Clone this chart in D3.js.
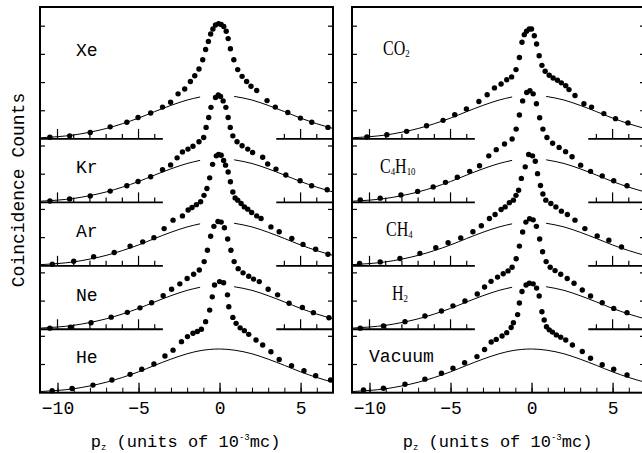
<!DOCTYPE html>
<html>
<head>
<meta charset="utf-8">
<script src="https://cdn.jsdelivr.net/npm/d3@7/dist/d3.min.js"></script>
<style>
    body { margin: 0; background: #fff; }
    .mono { font-family: "Liberation Mono", "DejaVu Sans Mono", monospace; }
    .serif { font-family: "Liberation Serif", serif; }
</style>
</head>
<body>
<div id="chart"></div>
<script>

// broad (fitted) component, same for every spectrum
const broadP = [-11.08, -10, -9, -8, -7, -6, -5, -4, -3, -2, -1.2, 0, 0.9, 2, 3, 4, 5, 6, 7];
const broadC = [0.04, 0.08, 0.14, 0.24, 0.37, 0.54, 0.74, 0.97, 1.19, 1.38, 1.49, 1.55, 1.51, 1.38, 1.19, 0.97, 0.74, 0.54, 0.37];

// measured points [pz, counts above own baseline]
const xeData = [[-10.47,0.06],[-9.25,0.11],[-7.98,0.23],[-6.75,0.43],[-5.72,0.59],[-5.03,0.76],[-4.25,0.92],[-3.52,1.13],[-3.02,1.30],[-2.56,1.60],[-2.15,1.77],[-1.80,2.04],[-1.53,2.24],[-1.27,2.48],[-1.04,2.81],[-0.86,3.17],[-0.69,3.46],[-0.55,3.72],[-0.41,3.90],[-0.25,4.04],[-0.06,4.09],[0.10,4.06],[0.26,3.99],[0.41,3.82],[0.53,3.56],[0.67,3.20],[0.88,2.81],[1.12,2.46],[1.39,2.22],[1.67,2.04],[1.94,1.87],[2.29,1.72],[2.93,1.36],[3.44,1.13],[4.21,0.94],[4.99,0.74],[5.69,0.59],[6.69,0.41]];
const krData = [[-10.47,0.05],[-9.25,0.12],[-7.98,0.23],[-6.75,0.40],[-5.72,0.59],[-5.03,0.74],[-4.25,0.91],[-3.52,1.16],[-3.02,1.33],[-2.62,1.58],[-2.29,1.79],[-1.95,1.89],[-1.64,1.99],[-1.27,2.15],[-0.98,2.30],[-0.83,2.66],[-0.67,3.01],[-0.53,3.37],[-0.25,3.72],[-0.08,3.81],[0.06,3.76],[0.22,3.60],[0.39,3.37],[0.53,3.01],[0.66,2.66],[0.82,2.36],[1.08,2.15],[1.39,2.01],[1.74,1.89],[2.04,1.77],[2.66,1.60],[2.97,1.36],[3.48,1.18],[4.09,0.97],[4.97,0.77],[5.68,0.59],[6.64,0.45]];
const arData = [[-10.32,0.06],[-9.0,0.16],[-7.77,0.32],[-6.5,0.47],[-5.52,0.70],[-4.74,0.85],[-4.05,1.00],[-3.42,1.32],[-2.87,1.62],[-2.29,1.77],[-1.94,1.98],[-1.70,2.07],[-1.43,2.17],[-1.17,2.27],[-0.96,2.50],[-0.78,2.74],[-0.61,3.12],[-0.43,3.60],[-0.20,3.90],[-0.06,3.95],[0.10,3.92],[0.25,3.74],[0.37,3.57],[0.53,3.33],[0.67,2.98],[0.82,2.62],[0.96,2.41],[1.12,2.33],[1.33,2.21],[1.53,2.09],[1.74,2.01],[1.98,1.89],[2.29,1.77],[2.56,1.68],[3.17,1.38],[3.68,1.21],[4.46,0.97],[5.15,0.76],[5.93,0.59],[6.69,0.41]];
const neData = [[-10.47,0.04],[-9.2,0.07],[-7.93,0.23],[-6.69,0.43],[-5.69,0.60],[-4.91,0.76],[-4.19,0.94],[-3.48,1.19],[-2.96,1.42],[-2.45,1.61],[-2.0,1.80],[-1.6,1.95],[-1.25,2.10],[-0.95,2.40],[-0.75,2.80],[-0.55,3.30],[-0.35,3.65],[-0.1,3.82],[0.1,3.80],[0.3,3.60],[0.5,3.20],[0.7,2.80],[0.9,2.40],[1.15,2.15],[1.45,2.00],[1.8,1.88],[2.1,1.78],[2.45,1.69],[3.0,1.42],[3.58,1.22],[4.29,0.92],[5.11,0.77],[5.79,0.59],[6.75,0.41]];
const heData = [[-10.33,0.07],[-9.1,0.15],[-7.81,0.27],[-6.64,0.45],[-5.52,0.65],[-4.8,0.83],[-4.05,1.02],[-3.37,1.30],[-2.87,1.51],[-2.35,1.81],[-1.98,1.99],[-1.64,2.11],[-1.37,2.17],[-1.12,2.25],[-0.86,2.52],[-0.61,2.93],[-0.45,3.40],[-0.31,3.82],[0,3.94],[0.25,3.90],[0.49,3.47],[0.57,3.05],[0.82,2.67],[1.02,2.46],[1.27,2.30],[1.53,2.20],[1.80,2.07],[2.25,1.87],[2.66,1.69],[3.17,1.45],[3.68,1.18],[4.44,0.96],[5.21,0.78],[5.93,0.60],[6.85,0.45]];

const co2Data = [[-10.16,0.07],[-8.93,0.15],[-7.71,0.27],[-6.48,0.47],[-5.46,0.66],[-4.74,0.86],[-4.02,1.06],[-3.25,1.33],[-2.74,1.57],[-2.29,1.81],[-1.88,1.95],[-1.53,2.10],[-1.23,2.20],[-0.96,2.46],[-0.75,2.89],[-0.59,3.43],[-0.45,3.70],[-0.31,3.82],[-0.14,3.90],[0,3.90],[0.17,3.66],[0.31,3.37],[0.47,2.95],[0.64,2.61],[0.84,2.40],[1.09,2.26],[1.33,2.16],[1.60,2.08],[1.84,1.99],[2.11,1.89],[2.31,1.75],[2.68,1.54],[3.23,1.25],[3.70,1.13],[4.46,0.90],[5.18,0.72],[5.95,0.57]];
const c4h10Data = [[-10.57,0.09],[-9.34,0.15],[-8.06,0.26],[-7.03,0.39],[-6.07,0.55],[-5.31,0.71],[-4.58,0.89],[-3.82,1.10],[-3.21,1.30],[-2.64,1.65],[-2.18,1.87],[-1.67,2.07],[-1.2,2.25],[-0.95,2.60],[-0.75,3.10],[-0.55,3.60],[-0.3,3.90],[-0.1,3.96],[0.1,3.85],[0.3,3.50],[0.5,3.00],[0.7,2.60],[0.95,2.30],[1.3,2.10],[1.7,1.95],[2.1,1.80],[2.5,1.62],[3.03,1.32],[3.64,1.10],[4.36,0.94],[5.07,0.77],[5.89,0.59]];
const ch4Data = [[-10.61,0.08],[-9.34,0.14],[-8.12,0.26],[-6.89,0.44],[-5.91,0.64],[-5.15,0.82],[-4.37,0.99],[-3.62,1.21],[-3.1,1.42],[-2.6,1.68],[-2.25,1.82],[-1.88,2.00],[-1.63,2.09],[-1.37,2.24],[-1.12,2.33],[-0.96,2.50],[-0.8,2.68],[-0.63,3.10],[-0.39,3.51],[-0.18,3.95],[0.06,3.90],[0.23,3.71],[0.37,3.27],[0.55,2.85],[0.7,2.55],[0.88,2.33],[1.19,2.21],[1.5,2.09],[1.84,1.94],[2.21,1.82],[2.68,1.62],[3.29,1.32],[4.05,1.06],[4.77,0.91],[5.55,0.67]];
const h2Data = [[-10.57,0.04],[-9.14,0.12],[-7.81,0.27],[-6.58,0.47],[-5.56,0.65],[-4.85,0.83],[-4.11,1.00],[-3.35,1.25],[-2.9,1.50],[-2.5,1.70],[-2.1,1.85],[-1.75,1.97],[-1.45,2.07],[-1.2,2.20],[-0.95,2.50],[-0.75,2.95],[-0.55,3.45],[-0.35,3.80],[-0.12,3.92],[0.1,3.88],[0.3,3.65],[0.5,3.20],[0.68,2.75],[0.9,2.40],[1.15,2.20],[1.45,2.08],[1.8,1.95],[2.2,1.80],[2.62,1.63],[3.13,1.39],[3.64,1.18],[4.36,0.94],[5.07,0.74],[5.89,0.59]];
const vacData = [[-10.37,0.10],[-9.14,0.16],[-7.81,0.30],[-6.58,0.48],[-5.56,0.69],[-4.85,0.87],[-4.13,1.06],[-3.37,1.28],[-2.9,1.53],[-2.49,1.80],[-2.18,1.89],[-1.82,2.01],[-1.53,2.13],[-1.26,2.31],[-1.12,2.48],[-0.86,2.77],[-0.75,3.18],[-0.59,3.59],[-0.34,3.82],[-0.14,3.88],[0.1,3.86],[0.31,3.71],[0.47,3.43],[0.64,2.87],[0.78,2.58],[0.92,2.34],[1.09,2.23],[1.29,2.15],[1.53,2.05],[1.8,1.97],[2.11,1.87],[2.52,1.69],[3.13,1.46],[3.64,1.22],[4.36,0.99],[5.07,0.83],[5.89,0.63]];

const leftNames = ["Xe", "Kr", "Ar", "Ne", "He"];
const rightNames = ["CO2", "C4H10", "CH4", "H2", "Vacuum"];
const minorTicks = [-10, -9, -8, -7, -6, -5, -4, -3, -2, -1, 0, 1, 2, 3, 4, 5, 6];
const majorTicks = [-10, -5, 0, 5];
const baseLeftTicks = [-10, -9, -8, -7, -6, -5, -4];
const baseRightTicks = [4, 5, 6];


class StackVis {

    constructor(svg, left, names, curves, labels) {
        this.svg = svg;
        this.left = left;
        this.names = names;
        this.curves = curves;
        this.labels = labels;   // label x, y (px)

        this.initVis();
    }

    initVis() {
        let vis = this;

        vis.width = 293;
        vis.top = 7;
        vis.bottom = 392.7;
        vis.offsets = [9, 6.75, 4.5, 2.25, 0];   // baseline of each spectrum
        vis.yMax = 13.68;

        vis.x = d3.scaleLinear()
            .domain([-11.08, 7.0])
            .range([vis.left, vis.left + vis.width]);

        vis.y = d3.scaleLinear()
            .domain([0, vis.yMax])
            .range([vis.bottom, vis.top]);

        vis.g = vis.svg.append("g");

        // bottom axis: ticks point inward, labels below
        vis.g.append("g")
            .attr("transform", `translate(0,${vis.bottom})`)
            .call(d3.axisBottom(vis.x).tickValues(minorTicks).tickSize(-5).tickSizeOuter(0).tickFormat(""))
            .call(g => g.select(".domain").remove());

        vis.g.append("g")
            .attr("class", "x-major")
            .attr("transform", `translate(0,${vis.bottom})`)
            .call(d3.axisBottom(vis.x).tickValues(majorTicks).tickSize(-10).tickSizeOuter(0).tickPadding(9))
            .call(g => g.select(".domain").remove())
            .call(g => g.selectAll("line").attr("stroke-width", 1.3));

        vis.g.selectAll(".x-major text")
            .attr("class", "mono")
            .attr("font-size", 18)
            .attr("fill", "#000")
            .attr("dy", "0.71em");

        vis.g.selectAll(".tick line").attr("stroke", "#000");

        vis.line = d3.line()
            .x(d => vis.x(d[0]))
            .y(d => vis.y(d[1]))
            .curve(d3.curveMonotoneX);

        vis.wrangleData();
    }

    wrangleData() {
        let vis = this;

        vis.broad = broadP.map((p, i) => [p, broadC[i]]);

        vis.displayData = vis.curves.map((pts, i) => {
            let off = vis.offsets[i];
            let upper = i === 0 ? vis.yMax : vis.offsets[i - 1];
            let yTicks = d3.range(off + 1, upper - 0.2, 1);
            return {
                name: vis.names[i],
                off: off,
                gap: i < vis.curves.length - 1,
                pts: pts,
                yTicks: yTicks
            };
        });

        vis.updateVis();
    }

    updateVis() {
        let vis = this;

        vis.displayData.forEach((c, i) => {
            let cg = vis.g.append("g");
            let by = vis.y(c.off);

            // side ticks
            c.yTicks.forEach(t => {
                cg.append("line").attr("x1", vis.left).attr("x2", vis.left + 5)
                    .attr("y1", vis.y(t)).attr("y2", vis.y(t)).attr("stroke", "#000").attr("stroke-width", 1.2);
                cg.append("line").attr("x1", vis.left + vis.width - 5).attr("x2", vis.left + vis.width)
                    .attr("y1", vis.y(t)).attr("y2", vis.y(t)).attr("stroke", "#000").attr("stroke-width", 1.2);
            });

            if (c.gap) {
                // broken baseline with its own little ticks
                [[-11.08, -3.5], [3.5, 7.0]].forEach(s => {
                    cg.append("line")
                        .attr("x1", vis.x(s[0])).attr("x2", vis.x(s[1]))
                        .attr("y1", by).attr("y2", by)
                        .attr("stroke", "#000").attr("stroke-width", 1.8);
                });
                baseLeftTicks.concat(baseRightTicks).forEach(t => {
                    let len = majorTicks.includes(t) ? 10 : 5;
                    cg.append("line")
                        .attr("x1", vis.x(t)).attr("x2", vis.x(t))
                        .attr("y1", by).attr("y2", by - len)
                        .attr("stroke", "#000").attr("stroke-width", 1.2);
                });
            }

            // broad component
            let lineGen = vis.line.defined(d => !c.gap || d[0] <= -1.2 || d[0] >= 0.9);
            cg.append("path")
                .datum(vis.broad.map(d => [d[0], d[1] + c.off]))
                .attr("d", lineGen)
                .attr("fill", "none")
                .attr("stroke", "#000")
                .attr("stroke-width", 1);

            // measured points
            cg.selectAll("circle")
                .data(c.pts)
                .enter()
                .append("circle")
                .attr("cx", d => vis.x(d[0]))
                .attr("cy", d => vis.y(d[1] + c.off))
                .attr("r", 2.7)
                .attr("fill", "#000");

            // label
            let lab = vis.labels[i];
            addLabel(cg, c.name, lab[0], lab[1]);
        });

        // frame on top
        vis.g.append("rect")
            .attr("x", vis.left)
            .attr("y", vis.top)
            .attr("width", vis.width)
            .attr("height", vis.bottom - vis.top)
            .attr("fill", "none")
            .attr("stroke", "#000")
            .attr("stroke-width", 2);

        // axis title
        let t = vis.g.append("text")
            .attr("class", "mono")
            .attr("x", vis.x(-2.1))
            .attr("y", 447)
            .attr("font-size", 17)
            .attr("text-anchor", "middle");
        t.append("tspan").text("p");
        t.append("tspan").text("z").attr("font-size", 9).attr("dy", 3);
        t.append("tspan").text(" (units of 10").attr("dy", -3);
        t.append("tspan").text("-3").attr("font-size", 9).attr("dy", -7);
        t.append("tspan").text("mc)").attr("dy", 7);
    }
}

// chemical formulas get subscripted digits
function addLabel(sel, name, x, y) {
    let hasDigit = /\d/.test(name);
    let t = sel.append("text")
        .attr("class", hasDigit ? "serif" : "mono")
        .attr("font-size", hasDigit ? 20 : 19)
        .attr("transform", `translate(${x},${y}) scale(${hasDigit ? 0.8 : 0.95},1)`);
    let sub = false;
    name.match(/\d+|\D+/g).forEach(part => {
        if (/\d/.test(part)) {
            t.append("tspan").text(part).attr("font-size", 11).attr("dy", 2);
            sub = true;
        } else {
            t.append("tspan").text(part).attr("dy", sub ? -2 : 0);
            sub = false;
        }
    });
}

let svg = d3.select("#chart").append("svg")
    .attr("width", 642)
    .attr("height", 453);

svg.append("text")
    .attr("class", "mono")
    .attr("font-size", 18)
    .attr("text-anchor", "middle")
    .attr("transform", "translate(24,190) rotate(-90)")
    .text("Coincidence Counts");

new StackVis(svg, 40, leftNames, [xeData, krData, arData, neData, heData],
    [[76, 56], [76, 173], [76, 237], [76, 301], [76, 363]]);
new StackVis(svg, 352, rightNames, [co2Data, c4h10Data, ch4Data, h2Data, vacData],
    [[383, 55], [380, 173], [386, 236], [392, 300], [369, 362]]);

</script>
</body>
</html>
